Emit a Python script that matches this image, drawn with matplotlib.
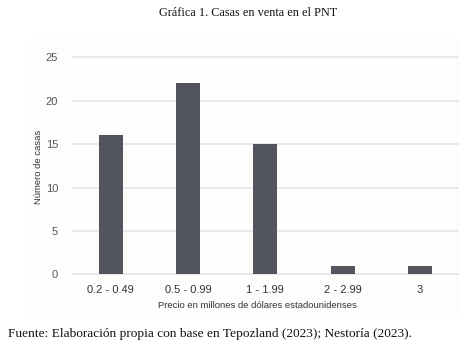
import matplotlib
matplotlib.use('Agg')
import matplotlib.pyplot as plt
from matplotlib.patches import Rectangle

# datos
rangos = ['0.2 - 0.49', '0.5 - 0.99', '1 - 1.99', '2 - 2.99', '3']
casas = [16, 22, 15, 1, 1]
ticks_y = [0, 5, 10, 15, 20, 25]

titulo = 'Gráfica 1. Casas en venta en el PNT'
fuente = 'Fuente: Elaboración propia con base en Tepozland (2023); Nestoría (2023).'

W, H = 460, 347
fig = plt.figure(figsize=(W / 100, H / 100), dpi=100)
fig.patch.set_facecolor('white')

# panel de fondo muy tenue
fig.patches.append(Rectangle((30 / W, 1 - 318 / H), 430 / W, 280 / H,
                             transform=fig.transFigure, facecolor='#fefdfc',
                             edgecolor='none', zorder=-5))

ax = fig.add_axes([72 / W, 1 - 274.3 / H, 386.5 / W, 217 / H])
ax.set_facecolor('none')
x = range(len(rangos))
ax.bar(x, casas, width=0.31, color='#52555d', zorder=3)

ax.set_xlim(-0.5, 4.5)
ax.set_ylim(0, 25)
ax.set_yticks(ticks_y)
ax.set_xticks(list(x))
ax.set_xticklabels(rangos)
ax.grid(axis='y', color='#e2e1e5', linewidth=1.1, zorder=0)
for gl in ax.get_ygridlines():
    gl.set_clip_on(False)
for s in ax.spines.values():
    s.set_visible(False)
ax.tick_params(axis='both', length=0)
ax.tick_params(axis='y', labelsize=8, labelcolor='#555555', pad=10)
ax.tick_params(axis='x', labelsize=8, labelcolor='#333333', pad=8)
for lab in ax.get_xticklabels() + ax.get_yticklabels():
    lab.set_family('Liberation Sans')

fig.text(257 / W, 1 - 305 / H, 'Precio en millones de dólares estadounidenses',
         ha='center', va='center', fontsize=6.8, color='#333333', family='Liberation Sans')
fig.text(39 / W, 1 - 167 / H, 'Número de casas', rotation=90,
         ha='center', va='center', fontsize=6.8, color='#333333', family='Liberation Sans')

fig.text(248 / W, 1 - 13 / H, titulo, ha='center', va='center',
         fontsize=8.8, color='#111111', family='Liberation Serif')
fig.text(8 / W, 1 - 334 / H, fuente, ha='left', va='center',
         fontsize=9.6, color='#111111', family='Liberation Serif')

fig.savefig('out.png', dpi=100, facecolor='white')
